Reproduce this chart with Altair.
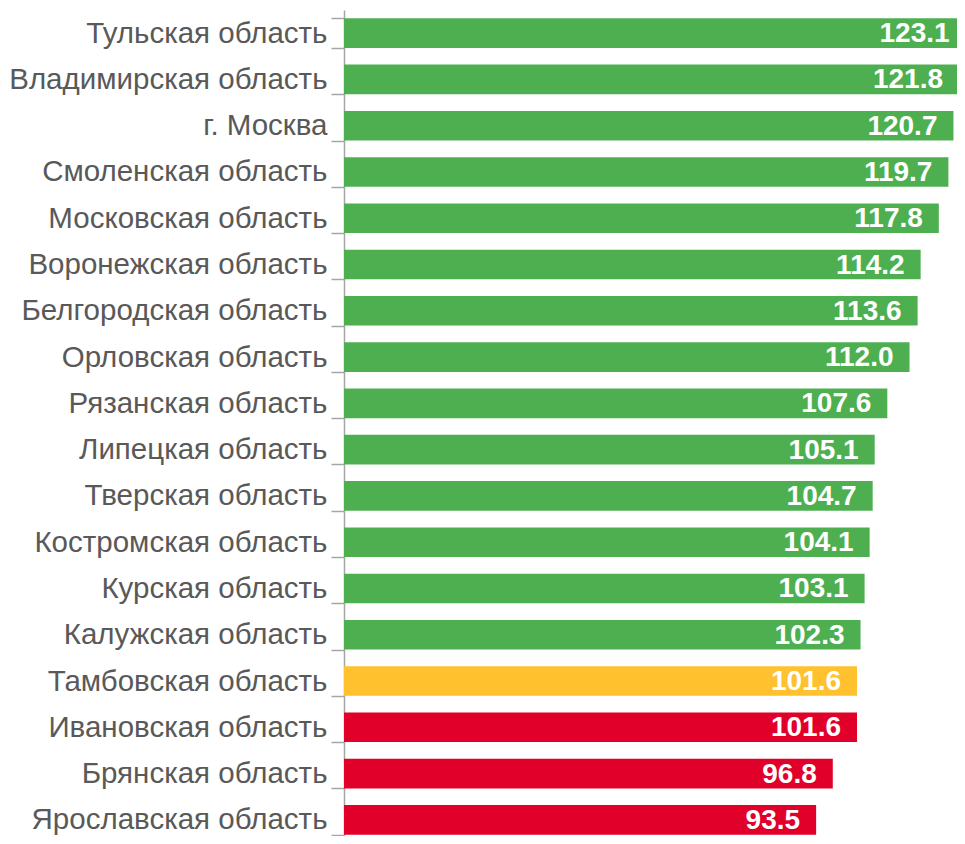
import altair as alt
import pandas as pd

NB = "\u00a0"
regions = [
    "Тульская область",
    "Владимирская область",
    "г. Москва" + NB,
    "Смоленская область",
    "Московская область",
    "Воронежская область",
    "Белгородская область",
    "Орловская область",
    "Рязанская область" + NB,
    "Липецкая область" + NB,
    "Тверская область" + NB,
    "Костромская область",
    "Курская область" + NB,
    "Калужская область" + NB,
    "Тамбовская область",
    "Ивановская область",
    "Брянская область" + NB,
    "Ярославская область",
]
values = [123.1, 121.8, 120.7, 119.7, 117.8, 114.2, 113.6, 112.0, 107.6, 105.1,
          104.7, 104.1, 103.1, 102.3, 101.6, 101.6, 96.8, 93.5]
groups = ["green"] * 14 + ["yellow"] + ["red"] * 3
labels = [f"{v:.1f}" for v in values]

df = pd.DataFrame({"region": regions, "value": values, "group": groups, "label": labels})

y_enc = alt.Y(
    "region:N",
    sort=regions,
    title=None,
    scale=alt.Scale(range=[0, 833], paddingInner=0.36, paddingOuter=0.18),
    axis=alt.Axis(
        labelFont="Liberation Sans",
        labelFontSize=29.5,
        labelColor="#595959",
        labelPadding=4,
        labelLimit=400,
        ticks=True,
        tickBand="extent",
        tickSize=13,
        tickColor="#a6a6a6",
        tickWidth=1.5,
        domain=True,
        domainColor="#a6a6a6",
        domainWidth=1.5,
        grid=False,
    ),
)

x_enc = alt.X("value:Q", scale=alt.Scale(domain=[0, 121.4], nice=False, zero=True), axis=None)

bars = alt.Chart(df).mark_bar(clip=True).encode(
    y=y_enc,
    x=x_enc,
    color=alt.Color(
        "group:N",
        scale=alt.Scale(domain=["green", "yellow", "red"], range=["#4EAF50", "#FFC12D", "#E1002A"]),
        legend=None,
    ),
)

text = alt.Chart(df).mark_text(
    align="right", baseline="middle", dx=-16, dy=1, clip=True,
    font="Liberation Sans", fontSize=28, fontWeight="bold", color="white",
).encode(
    y=alt.Y("region:N", sort=regions),
    x=alt.X("value:Q"),
    text="label:N",
)

chart = alt.layer(bars, text).properties(
    width=613,
    height=826,
    autosize=alt.AutoSizeParams(type="none"),
    padding={"left": 336, "top": 2, "right": 0, "bottom": 0},
).configure_view(stroke=None)

chart.save("out.html", embed_options={"renderer": "svg", "actions": False})
